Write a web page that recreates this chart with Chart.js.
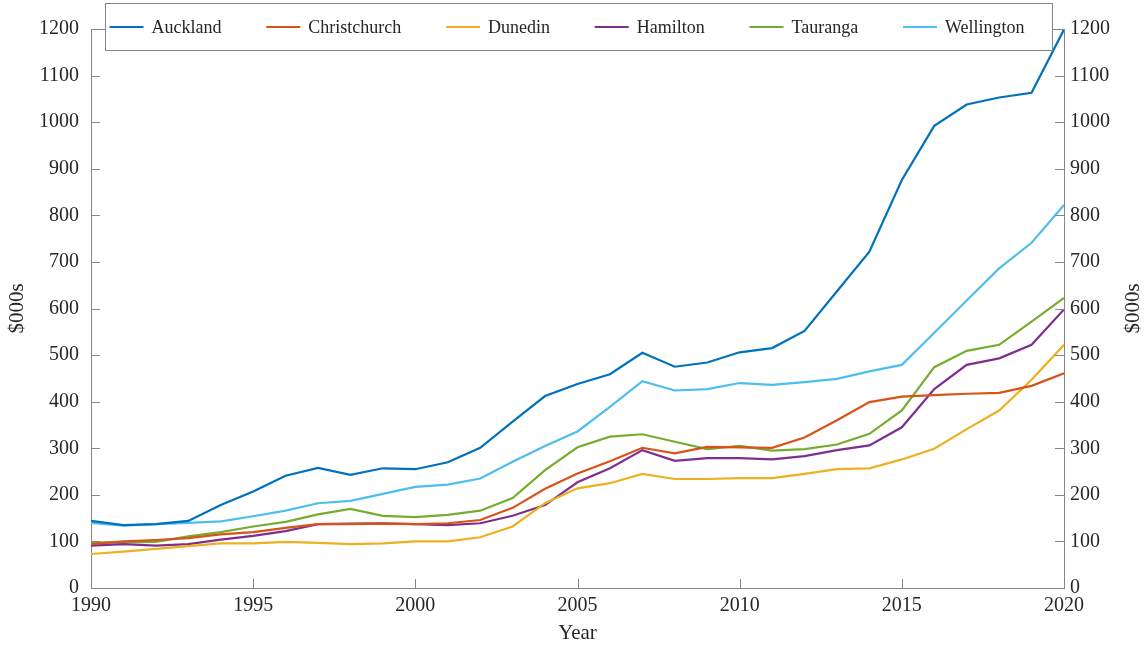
<!DOCTYPE html>
<html>
<head>
<meta charset="utf-8">
<title>Median house prices</title>
<script src="https://cdn.jsdelivr.net/npm/chart.js@4/dist/chart.umd.min.js"></script>
<style>
  html, body { margin: 0; padding: 0; background: #fff; }
  #wrap { width: 1148px; height: 646px; }
</style>
</head>
<body>
<div id="wrap"><canvas id="priceChart" width="1148" height="646"></canvas></div>
<script>
// ── data ($000s) ────────────────────────────────────────────────────────────
const YEARS = [1990, 1991, 1992, 1993, 1994, 1995, 1996, 1997, 1998, 1999, 2000,
               2001, 2002, 2003, 2004, 2005, 2006, 2007, 2008, 2009, 2010,
               2011, 2012, 2013, 2014, 2015, 2016, 2017, 2018, 2019, 2020];

const CITIES = ['Auckland', 'Christchurch', 'Dunedin', 'Hamilton', 'Tauranga', 'Wellington'];

const AUCKLAND     = [144, 135, 137, 144, 178, 207, 241, 258, 243, 257, 255, 270, 301, 357, 412, 438, 459, 505, 475, 484, 506, 515, 552, 637, 722, 876, 992, 1038, 1053, 1063, 1199];
const CHRISTCHURCH = [94, 100, 103, 107, 115, 120, 129, 137, 137, 138, 137, 139, 146, 172, 213, 246, 272, 301, 289, 303, 302, 301, 323, 360, 399, 411, 414, 417, 419, 434, 461];
const DUNEDIN      = [73, 78, 84, 90, 96, 96, 99, 97, 94, 96, 100, 100, 109, 132, 182, 214, 225, 245, 234, 234, 236, 236, 245, 255, 257, 276, 299, 341, 381, 447, 522];
const HAMILTON     = [91, 94, 91, 94, 104, 112, 122, 137, 138, 139, 137, 135, 139, 155, 178, 227, 257, 296, 273, 279, 279, 276, 283, 296, 306, 345, 427, 479, 493, 522, 598];
const TAURANGA     = [98, 98, 99, 111, 120, 132, 142, 158, 170, 155, 152, 157, 166, 193, 253, 302, 325, 330, 314, 298, 305, 295, 298, 308, 331, 381, 474, 509, 522, 572, 623];
const WELLINGTON   = [140, 134, 137, 140, 143, 154, 166, 182, 187, 202, 217, 222, 235, 271, 305, 336, 389, 444, 424, 427, 440, 436, 442, 449, 465, 479, 548, 617, 686, 741, 822];

const SERIES = [AUCKLAND, CHRISTCHURCH, DUNEDIN, HAMILTON, TAURANGA, WELLINGTON];
const COLORS = ['#0072BD', '#D95319', '#EDB120', '#7E2F8E', '#77AC30', '#4DBEEE'];

const X_MIN = 1990, X_MAX = 2020, X_STEP = 5;
const Y_MIN = 0, Y_MAX = 1200, Y_STEP = 100;

// ── styling ─────────────────────────────────────────────────────────────────
const SERIF = "'Liberation Serif', 'DejaVu Serif', serif";
const AXIS_COLOR = '#868686';
const TEXT_COLOR = '#262626';
const TICK_LEN = 9;

Chart.defaults.font.family = SERIF;
Chart.defaults.color = TEXT_COLOR;

// inward tick marks, box top edge, right-hand axis title and the legend
const framePlugin = {
  id: 'frame',
  afterDraw(chart) {
    const { ctx, chartArea: a, scales } = chart;
    ctx.save();
    ctx.strokeStyle = AXIS_COLOR;
    ctx.lineWidth = 1;

    ctx.beginPath();
    scales.x.ticks.forEach(t => {
      const px = Math.round(scales.x.getPixelForValue(t.value)) + 0.5;
      ctx.moveTo(px, a.bottom); ctx.lineTo(px, a.bottom - TICK_LEN);
    });
    scales.y.ticks.forEach(t => {
      const py = Math.round(scales.y.getPixelForValue(t.value)) + 0.5;
      ctx.moveTo(a.left, py); ctx.lineTo(a.left + TICK_LEN, py);
    });
    scales.y2.ticks.forEach(t => {
      const py = Math.round(scales.y2.getPixelForValue(t.value)) + 0.5;
      ctx.moveTo(a.right, py); ctx.lineTo(a.right - TICK_LEN, py);
    });
    // top edge of the box
    ctx.moveTo(a.left, Math.round(a.top) + 0.5); ctx.lineTo(a.right, Math.round(a.top) + 0.5);
    ctx.stroke();

    // right axis title, same orientation as the left one
    ctx.fillStyle = TEXT_COLOR;
    ctx.font = '21px ' + SERIF;
    ctx.textAlign = 'center';
    ctx.textBaseline = 'middle';
    ctx.translate(1133, (a.top + a.bottom) / 2);
    ctx.rotate(-Math.PI / 2);
    ctx.fillText('$000s', 0, 0);
    ctx.restore();

    drawLegend(chart);
  }
};

function drawLegend(chart) {
  const ctx = chart.ctx;
  const box = { left: 105.5, right: 1052.5, top: 3.5, bottom: 50.5 };
  const lineLen = 34, lineGap = 8, padL = 4, padR = 28;
  ctx.save();
  ctx.font = '18px ' + SERIF;
  ctx.fillStyle = '#fff';
  ctx.fillRect(box.left, box.top, box.right - box.left, box.bottom - box.top);
  ctx.strokeStyle = AXIS_COLOR;
  ctx.lineWidth = 1;
  ctx.strokeRect(box.left, box.top, box.right - box.left, box.bottom - box.top);

  const ds = chart.data.datasets;
  const widths = ds.map(d => lineLen + lineGap + ctx.measureText(d.label).width);
  const used = widths.reduce((s, w) => s + w, 0);
  const gap = (box.right - box.left - padL - padR - used) / (ds.length - 1);
  const cy = (box.top + box.bottom) / 2;
  let x = box.left + padL;
  ds.forEach((d, i) => {
    ctx.strokeStyle = d.borderColor;
    ctx.lineWidth = 2;
    ctx.beginPath();
    ctx.moveTo(x, cy); ctx.lineTo(x + lineLen, cy);
    ctx.stroke();
    ctx.fillStyle = TEXT_COLOR;
    ctx.textAlign = 'left';
    ctx.textBaseline = 'middle';
    ctx.fillText(d.label, x + lineLen + lineGap, cy + 1);
    x += widths[i] + gap;
  });
  ctx.restore();
}

function yAxis(position, padding) {
  return {
    type: 'linear',
    position,
    min: Y_MIN,
    max: Y_MAX,
    ticks: { stepSize: Y_STEP, padding, font: { size: 20 }, color: TEXT_COLOR, callback: v => String(v) },
    grid: { drawOnChartArea: false, drawTicks: false },
    border: { color: AXIS_COLOR, width: 1 },
  };
}

const datasets = CITIES.map((city, i) => ({
  label: city,
  data: YEARS.map((yr, j) => ({ x: yr, y: SERIES[i][j] })),
  borderColor: COLORS[i],
  backgroundColor: COLORS[i],
  borderWidth: 2.2,
  pointRadius: 0,
  tension: 0,
  yAxisID: 'y',
}));

const leftAxis = yAxis('left', 12);
leftAxis.title = { display: true, text: '$000s', font: { size: 21 }, color: TEXT_COLOR, padding: { top: 5, bottom: 0 } };
leftAxis.afterFit = s => { s.width = 91; };

const rightAxis = yAxis('right', 6);
rightAxis.afterFit = s => { s.width = 84; };

new Chart(document.getElementById('priceChart'), {
  type: 'line',
  data: { datasets },
  options: {
    responsive: false,
    animation: false,
    devicePixelRatio: 1,
    layout: { padding: { top: 29, left: 0, right: 0, bottom: 0 } },
    plugins: { legend: { display: false }, tooltip: { enabled: false } },
    scales: {
      x: {
        type: 'linear',
        min: X_MIN,
        max: X_MAX,
        ticks: { stepSize: X_STEP, padding: 6, font: { size: 20 }, color: TEXT_COLOR, callback: v => String(v) },
        grid: { drawOnChartArea: false, drawTicks: false },
        border: { color: AXIS_COLOR, width: 1 },
        title: { display: true, text: 'Year', font: { size: 21 }, color: TEXT_COLOR, padding: 0 },
        afterFit: s => { s.height = 58; },
      },
      y: leftAxis,
      y2: rightAxis,
    },
  },
  plugins: [framePlugin],
});
</script>
</body>
</html>
